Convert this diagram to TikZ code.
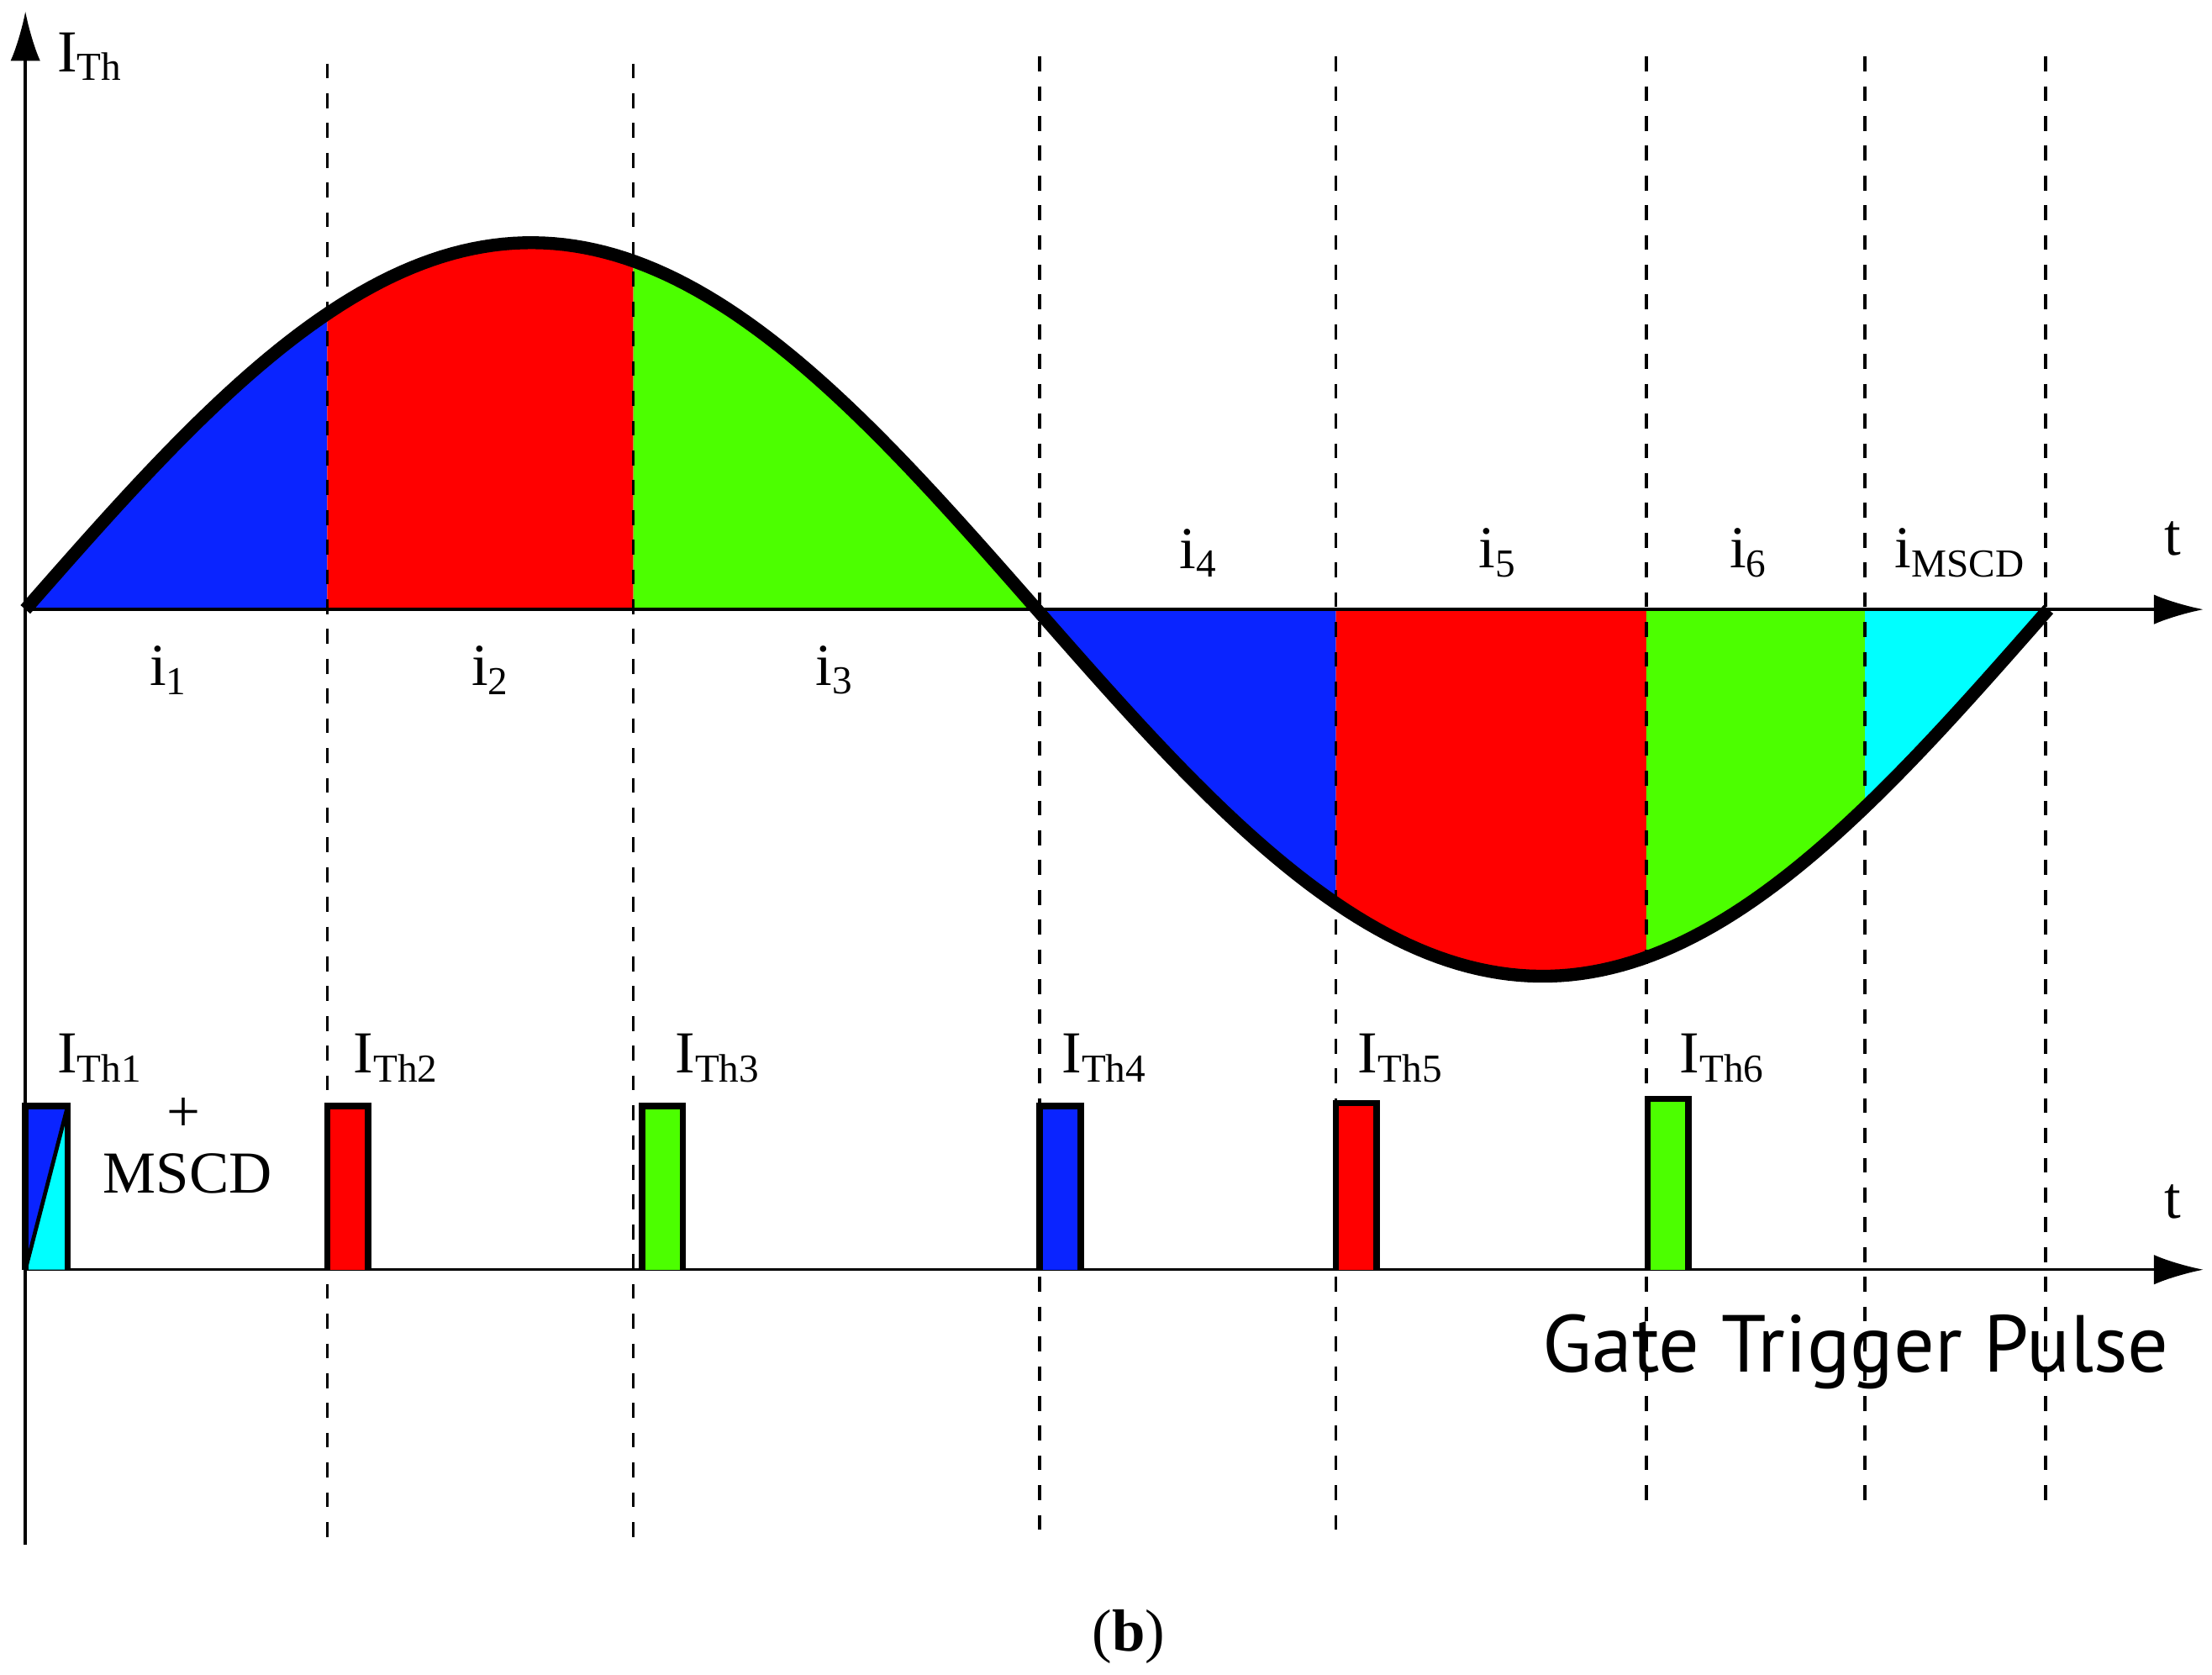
\documentclass[tikz,border=0pt]{standalone}
\usepackage{fontspec}
\setmainfont{Liberation Serif}
\newfontfamily\gatefont{PT Sans}
\usetikzlibrary{arrows.meta}
\definecolor{cb}{HTML}{0A24FF}
\definecolor{cr}{HTML}{FF0000}
\definecolor{cg}{HTML}{4CFF00}
\definecolor{cc}{HTML}{00FFFF}
\begin{document}
\begin{tikzpicture}[x=0.01cm,y=0.01cm,
  lbl/.style={font=\fontsize{12}{14}\selectfont,inner sep=0},
  axis/.style={line width=0.6pt,-{Latex[length=10pt,width=6pt]}},
  dsh/.style={dashed,line width=0.6pt},
  pulse/.style={draw=black,line width=1.3pt}]
\useasboundingbox (0,0) rectangle (1568,-1187);
\def\f(#1){-432+260*sin(0.251046*((#1)-18))}
\foreach \a/\b/\c in {18/232/cb,232/449/cr,449/735/cg,735/947/cb,947/1167/cr,1167/1322/cg,1322/1452/cc}{
  \fill[\c] (\a,-432) -- plot[domain=\a:\b,samples=60] (\x,{\f(\x)}) -- (\b,-432) -- cycle;
}
\foreach \xx/\yt/\yb in {232/45/1092,449/45/1092,737/40/1090,947/40/1090,1167/40/1068,1322/40/1068,1450/40/1068}
  \draw[dsh] (\xx,-\yt) -- (\xx,-\yb);
\coordinate (o) at (18,-432);
\coordinate (te) at (1562,-432);
\coordinate (yb) at (18,-1095);
\coordinate (yt) at (18,-8);
\coordinate (lo) at (18,-900);
\coordinate (le) at (1562,-900);
\draw[axis] (o) -- (te);
\draw[axis] (lo) -- (le);
\draw[axis] (yb) -- (yt);
\draw[line width=2.6pt,line join=round] plot[domain=18:1452,samples=200] (\x,{\f(\x)});
% pulses
\fill[cb] (18,-900) -- (18,-784) -- (48,-784) -- cycle;
\fill[cc] (18,-900) -- (48,-900) -- (48,-784) -- cycle;
\draw[black,line width=0.8pt] (18,-900) -- (48,-784);
\draw[pulse] (18,-900) -- (18,-784) -- (48,-784) -- (48,-900);
\foreach \a/\t/\c in {232/784/cr,455/784/cg,737/784/cb,947/782/cr,1168/779/cg}
  \draw[pulse,fill=\c] (\a,-900) -- (\a,-\t) -- (\a+29,-\t) -- (\a+29,-900);
% labels
\node[lbl,anchor=west] (ith) at (40,-40) {I\textsubscript{Th}};
\node[lbl] (t1) at (1540,-382) {t};
\node[lbl] (t2) at (1540,-852) {t};
\node[lbl] (i1) at (120,-475) {i\textsubscript{1}};
\node[lbl] (i2) at (348,-475) {i\textsubscript{2}};
\node[lbl] (i3) at (592,-475) {i\textsubscript{3}};
\node[lbl] (i4) at (850,-392) {i\textsubscript{4}};
\node[lbl] (i5) at (1062,-392) {i\textsubscript{5}};
\node[lbl] (i6) at (1240,-392) {i\textsubscript{6}};
\node[lbl] (im) at (1390,-392) {i\textsubscript{MSCD}};
\node[lbl,anchor=west] (th1) at (40,-750) {I\textsubscript{Th1}};
\node[lbl,anchor=west] (th2) at (250,-750) {I\textsubscript{Th2}};
\node[lbl,anchor=west] (th3) at (478,-750) {I\textsubscript{Th3}};
\node[lbl,anchor=west] (th4) at (752,-750) {I\textsubscript{Th4}};
\node[lbl,anchor=west] (th5) at (962,-750) {I\textsubscript{Th5}};
\node[lbl,anchor=west] (th6) at (1190,-750) {I\textsubscript{Th6}};
\node[lbl] (plus) at (130,-790) {+};
\node[lbl] (mscd) at (133,-832) {MSCD};
\node[font=\gatefont\fontsize{16.3}{19}\selectfont,inner sep=0,anchor=east] (gtp) at (1538,-958) {Gate Trigger Pulse};
\node[lbl] (b) at (800,-1160) {(\textbf{b})};
\end{tikzpicture}
\end{document}
